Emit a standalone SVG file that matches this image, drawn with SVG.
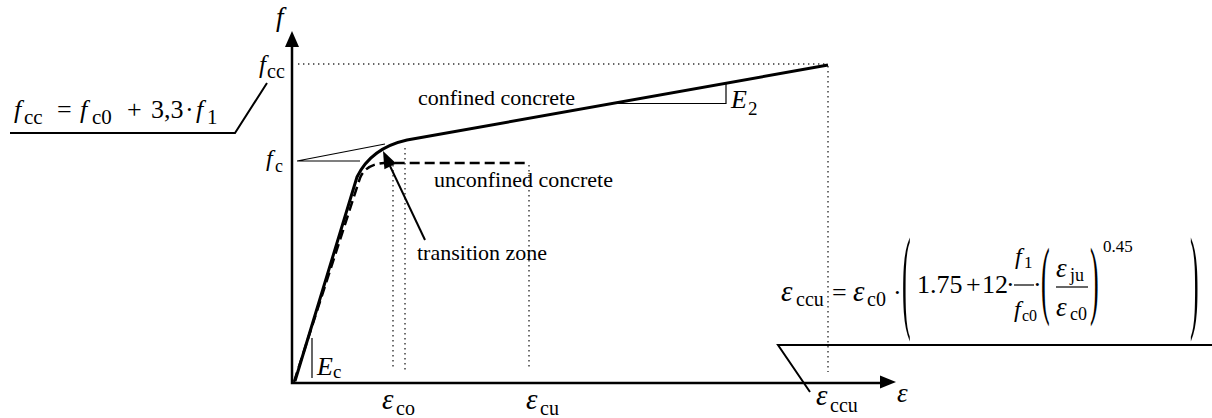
<svg xmlns="http://www.w3.org/2000/svg" width="1212" height="418" viewBox="0 0 1212 418">
<defs>
<style>
text{font-family:"Liberation Serif","Times New Roman",serif;fill:#000}
.lbl{font-size:22px}
.it{font-style:italic}
.axis{stroke:#000;stroke-width:2.5;fill:none}
.dot{stroke:#333;stroke-width:1.4;stroke-dasharray:1.4 3.6;fill:none}
.thin{stroke:#000;stroke-width:1.2;fill:none}
.curve{stroke:#000;stroke-width:3;fill:none;stroke-linejoin:round}
.dash{stroke:#000;stroke-width:2.5;fill:none;stroke-dasharray:10 5}
.ul{stroke:#000;stroke-width:2;fill:none}
.head{fill:#000}
</style>
</defs>
<rect width="1212" height="418" fill="#fff"/>

<g id="guides">
<path class="dot" d="M298 64H828"/>
<path class="dot" d="M828 66V372"/>
<path class="dot" d="M393 165V370"/>
<path class="dot" d="M405 148V370"/>
<path class="dot" d="M529 165V370"/>
</g>

<g id="axes">
<path class="axis" d="M292 45V383H882"/>
<polygon class="head" points="292,31 285,47 299,47"/>
<polygon class="head" points="896,382 880,375.5 880,388.5"/>
</g>

<g id="curves">
<path class="dash" d="M294 382L360 178Q366 164 384 163L528 163"/>
<path class="curve" d="M295 381L357 177Q371 148 407 140L828 65"/>
<path class="thin" d="M297 161L385 144M297 161H360"/>
<path class="thin" d="M612 103.5H726V84"/>
<path class="thin" d="M312 338V378"/>
</g>

<g id="connectors">
<path stroke="#000" stroke-width="2" d="M425 240L390 166"/>
<polygon class="head" points="383,151 396.2,163.6 384.4,169.2"/>
<path class="ul" d="M10 133H235L267 83"/>
<path class="ul" d="M810 392L778 345H1212"/>
</g>

<g id="axis-labels">
<text class="it" x="276" y="26" font-size="27">f</text>
<text class="it" x="259" y="73" font-size="25">f</text>
<text x="267" y="78" font-size="20">cc</text>
<text class="it" x="266" y="166" font-size="24">f</text>
<text x="275" y="172" font-size="18">c</text>
<text class="it" x="317" y="375" font-size="26">E</text>
<text x="333" y="378" font-size="19">c</text>
<text class="it" x="731" y="108" font-size="26">E</text>
<text x="748" y="115" font-size="19">2</text>
<text class="it" x="382" y="409" font-size="29">ε</text>
<text x="396" y="415" font-size="20">co</text>
<text class="it" x="526" y="409" font-size="29">ε</text>
<text x="540" y="415" font-size="20">cu</text>
<text class="it" x="816" y="405" font-size="29">ε</text>
<text x="830" y="412" font-size="20">ccu</text>
<text class="it" x="897" y="402" font-size="27">ε</text>
</g>

<g id="labels">
<text class="lbl" x="418" y="105">confined concrete</text>
<text class="lbl" x="434" y="187">unconfined concrete</text>
<text class="lbl" x="417" y="260">transition zone</text>
</g>

<g id="formula-fcc">
<text class="it" x="14" y="118" font-size="26">f</text>
<text x="24" y="124" font-size="21">cc</text>
<text x="57" y="118" font-size="26">=</text>
<text class="it" x="80" y="118" font-size="26">f</text>
<text x="92" y="124" font-size="21">c0</text>
<text x="127" y="118" font-size="26">+</text>
<text x="151" y="118" font-size="26">3,3</text>
<text x="185" y="118" font-size="26">·</text>
<text class="it" x="196" y="118" font-size="26">f</text>
<text x="207" y="124" font-size="21">1</text>
</g>

<g id="formula-eccu">
<text class="it" x="781" y="301" font-size="29">ε</text>
<text x="796" y="306" font-size="20">ccu</text>
<text x="832" y="301" font-size="26">=</text>
<text class="it" x="853" y="301" font-size="29">ε</text>
<text x="867" y="306" font-size="20">c0</text>
<text x="893" y="301" font-size="26">·</text>
<text transform="translate(902 317) scale(1 4.38)" font-size="26">(</text>
<text x="917" y="293" font-size="26">1.75</text>
<text x="966" y="293" font-size="26">+</text>
<text x="982" y="293" font-size="26">12</text>
<text x="1006" y="293" font-size="26">·</text>
<text class="it" x="1015" y="264" font-size="24">f</text>
<text x="1024" y="268" font-size="17">1</text>
<path stroke="#000" stroke-width="1.2" d="M1014 285H1034"/>
<text class="it" x="1014" y="317" font-size="24">f</text>
<text x="1022" y="321" font-size="16">c0</text>
<text x="1033" y="293" font-size="26">·</text>
<text transform="translate(1041 307.6) scale(1 3.36)" font-size="26">(</text>
<text class="it" x="1056" y="277" font-size="27">ε</text>
<text x="1070" y="281" font-size="18">ju</text>
<path stroke="#000" stroke-width="1.2" d="M1056 287H1088"/>
<text class="it" x="1056" y="316" font-size="27">ε</text>
<text x="1070" y="320" font-size="18">c0</text>
<text transform="translate(1090 307.6) scale(1 3.36)" font-size="26">)</text>
<text x="1103" y="252" font-size="17">0.45</text>
<text transform="translate(1190 317) scale(1 4.38)" font-size="26">)</text>
</g>
</svg>
